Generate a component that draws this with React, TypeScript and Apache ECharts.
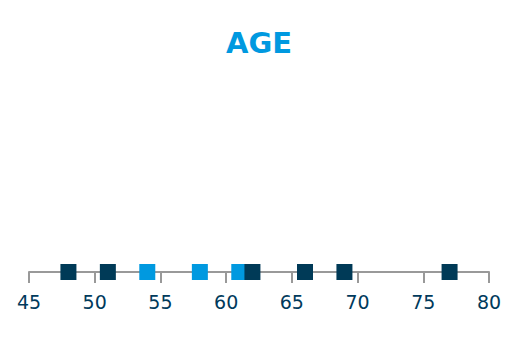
import React, { useEffect, useRef } from "react";
import * as echarts from "echarts";

const title = "AGE";
const groupAAges = [54, 58, 61];
const groupBAges = [48, 51, 62, 66, 69, 77];
const axisMin = 45;
const axisMax = 80;
const axisStep = 5;

export default function App() {
  const ref = useRef<HTMLDivElement>(null);
  useEffect(() => {
    if (!ref.current) return;
    const chart = echarts.init(ref.current, undefined, { renderer: "svg" });
    chart.setOption({
      animation: false,
      title: {
        text: title,
        left: "center",
        top: 15,
        textStyle: {
          fontFamily: "DejaVu Sans",
          fontWeight: "bold",
          fontSize: 29,
          color: "#0099e0",
        },
      },
      grid: { left: 21, right: 21, top: 80, bottom: 80 },
      xAxis: {
        type: "value",
        min: axisMin,
        max: axisMax,
        interval: axisStep,
        splitLine: { show: false },
        axisLine: { show: true, onZero: false, lineStyle: { color: "#999999", width: 2 } },
        axisTick: { show: true, length: 11, lineStyle: { color: "#999999", width: 2 } },
        axisLabel: {
          margin: 20,
          fontFamily: "DejaVu Sans",
          fontSize: 19,
          color: "#003a5c",
        },
      },
      yAxis: { type: "value", min: 0, max: 1, show: false },
      series: [
        {
          type: "scatter",
          symbol: "rect",
          symbolSize: 16,
          itemStyle: { color: "#0099e0", opacity: 1 },
          data: groupAAges.map((a) => [a, 0]),
          z: 2,
        },
        {
          type: "scatter",
          symbol: "rect",
          symbolSize: 16,
          itemStyle: { color: "#003a57", opacity: 1 },
          data: groupBAges.map((a) => [a, 0]),
          z: 3,
        },
      ],
    });
    return () => chart.dispose();
  }, []);
  return <div ref={ref} style={{ width: 502, height: 344 }} />;
}
